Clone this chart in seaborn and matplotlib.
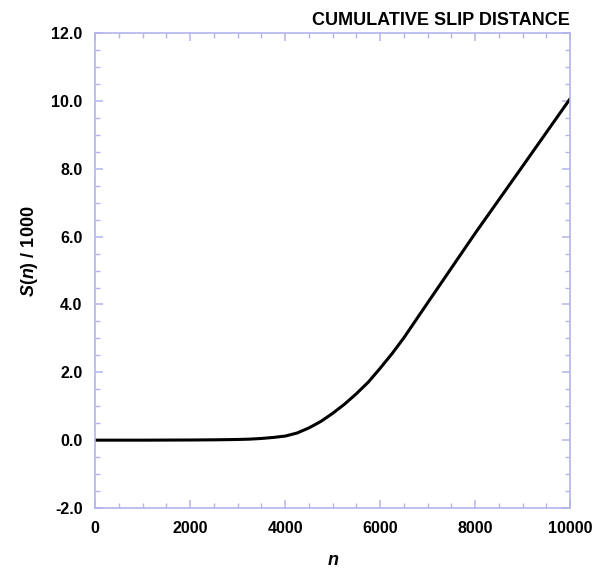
import numpy as np
import pandas as pd
import matplotlib
matplotlib.use("Agg")
import matplotlib.pyplot as plt
import seaborn as sns
from matplotlib.ticker import MultipleLocator, FormatStrFormatter

# cycle number and cumulative slip
n_vals = [0, 1000, 2000, 2500, 3000, 3250, 3500, 3750, 4000, 4250, 4500, 4750,
          5000, 5250, 5500, 5750, 6000, 6250, 6500, 7000, 8000, 9000, 10000]
s_vals = [0.0, 0.0, 0.005, 0.01, 0.02, 0.03, 0.05, 0.08, 0.12, 0.21, 0.36, 0.55,
          0.79, 1.06, 1.37, 1.71, 2.12, 2.55, 3.02, 4.05, 6.10, 8.08, 10.07]

data = pd.DataFrame({"n": n_vals, "S": s_vals})

sns.set_style("ticks")
plt.rcParams['font.family'] = ['Liberation Sans', 'DejaVu Sans']
plt.rcParams['mathtext.fontset'] = 'custom'
plt.rcParams['mathtext.it'] = 'Liberation Sans:italic:bold'
plt.rcParams['mathtext.rm'] = 'Liberation Sans:bold'
plt.rcParams['text.color'] = 'black'
plt.rcParams['axes.labelcolor'] = 'black'

fig = plt.figure(figsize=(5.94, 5.75), dpi=100)
ax = fig.add_axes([0.16, 0.1165, 0.8, 0.826])

sns.lineplot(data=data, x="n", y="S", color="black", linewidth=2.2, ax=ax)

frame = "#b4b4ee"
for sp in ax.spines.values():
    sp.set_color(frame)
    sp.set_linewidth(1.2)

ax.set_xlim(0, 10000)
ax.set_ylim(-2, 12)
ax.xaxis.set_major_locator(MultipleLocator(2000))
ax.xaxis.set_minor_locator(MultipleLocator(500))
ax.yaxis.set_major_locator(MultipleLocator(2))
ax.yaxis.set_minor_locator(MultipleLocator(0.5))
ax.yaxis.set_major_formatter(FormatStrFormatter('%.1f'))
ax.tick_params(which='both', direction='in', top=True, right=True,
               color=frame, labelcolor='black')
ax.tick_params(which='major', length=6, width=1.1, pad=9, labelsize=11.5)
ax.tick_params(which='minor', length=3.5, width=1)
for lab in ax.get_xticklabels() + ax.get_yticklabels():
    lab.set_fontweight('bold')

ax.set_xlabel(r'$n$', fontsize=13, labelpad=12)
ax.set_ylabel(r'$S$($n$) / 1000', fontsize=13, fontweight='bold', labelpad=14)
ax.yaxis.set_label_coords(-0.115, 0.54)
ax.set_title('CUMULATIVE SLIP DISTANCE', loc='right', fontsize=13,
             fontweight='bold', pad=6)

plt.savefig("out.png", dpi=100)
